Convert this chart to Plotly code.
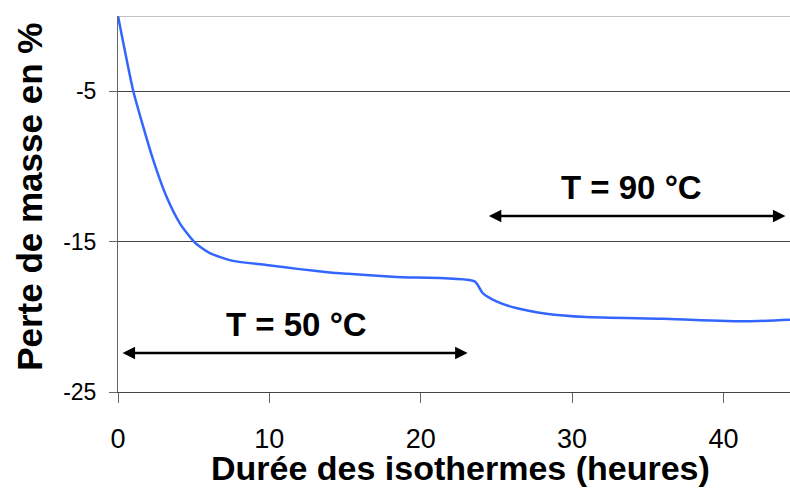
import plotly.graph_objects as go

# Mass loss curve
hours = [0, 1.0, 1.67, 2.33, 3.2, 4.1, 5.08, 6.07, 7.6, 9.8, 12.0, 14.0, 15.2,
         18.4, 23.56, 24.1, 25.0, 26.3, 28.3, 30.9, 36.0, 41.5, 44.4]
mass_loss = [0, -4.95, -7.37, -9.58, -12.0, -13.8, -15.07, -15.77, -16.28, -16.55,
             -16.83, -17.05, -17.14, -17.36, -17.65, -18.43, -18.98, -19.42, -19.8,
             -20.02, -20.13, -20.3, -20.2]

x_ticks = [0, 10, 20, 30, 40]
y_ticks = [-5, -15, -25]
y_tick_labels = ["-5", "-15", "-25"]

FONT = "Liberation Sans, Arial, sans-serif"

fig = go.Figure()
fig.add_trace(go.Scatter(
    x=hours, y=mass_loss, mode="lines",
    line=dict(color="#3366ff", width=2.5, shape="spline", smoothing=0.6),
    showlegend=False,
))

# top border line at 0
fig.add_shape(type="line", xref="paper", yref="y", x0=0, x1=1, y0=0, y1=0,
              line=dict(color="#888888", width=1))

# double-headed arrows for the two isotherms
arrow = dict(showarrow=True, arrowhead=2, arrowsize=1, arrowwidth=2.5,
             arrowcolor="black", arrowside="end+start", axref="x", ayref="y", text="")
fig.add_annotation(x=0.3, y=-22.4, ax=23.2, ay=-22.4, **arrow)
fig.add_annotation(x=24.5, y=-13.3, ax=44.2, ay=-13.3, **arrow)

label_font = dict(family=FONT, size=33, color="black", weight="bold")
fig.add_annotation(x=11.8, y=-20.5, text="T = 50 °C", showarrow=False, font=label_font)
fig.add_annotation(x=33.9, y=-11.4, text="T = 90 °C", showarrow=False, font=label_font)

# axis titles
fig.add_annotation(x=0.509, y=0, xref="paper", yref="paper", yshift=-76,
                   xanchor="center", yanchor="middle",
                   text="Durée des isothermes (heures)", showarrow=False,
                   font=dict(family=FONT, size=34, color="black", weight="bold"))
fig.add_annotation(x=0, y=0.519, xref="paper", yref="paper", xshift=-88,
                   xanchor="center", yanchor="middle",
                   text="Perte de masse en %", showarrow=False, textangle=-90,
                   font=dict(family=FONT, size=35, color="black", weight="bold"))

fig.update_layout(
    width=790, height=488,
    margin=dict(l=118, r=0, t=16, b=96),
    plot_bgcolor="white", paper_bgcolor="white",
    font=dict(family=FONT, color="black"),
)
fig.update_xaxes(
    range=[0, 44.4], tickvals=x_ticks, ticks="outside", ticklen=10, tickcolor="#666",
    showline=True, linecolor="#444", linewidth=1, showgrid=False, zeroline=False,
    tickfont=dict(size=27), ticklabelstandoff=13, automargin=False,
)
fig.update_yaxes(
    range=[-25, 0], tickvals=y_ticks, ticktext=y_tick_labels,
    ticks="outside", ticklen=8, tickcolor="#666",
    showline=True, linecolor="#666", linewidth=1,
    showgrid=True, gridcolor="#444", gridwidth=1, zeroline=False,
    tickfont=dict(size=23), ticklabelstandoff=8, automargin=False,
)

fig.write_html("out.html", config={"displayModeBar": False},
               post_script="document.body.style.margin='0';")
